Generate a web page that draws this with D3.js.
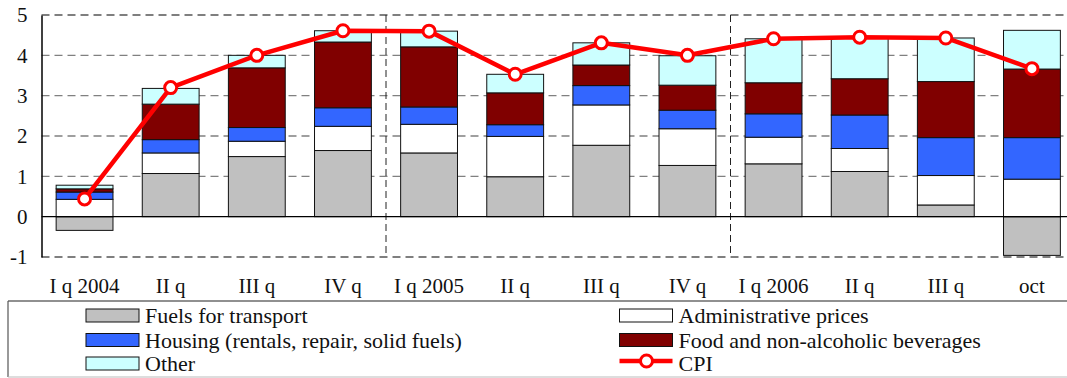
<!DOCTYPE html>
<html>
<head>
<meta charset="utf-8">
<script src="https://cdn.jsdelivr.net/npm/d3@7"></script>
<style>
  html, body { margin: 0; padding: 0; background: #fff; }
  svg { display: block; }
  text { font-family: "Liberation Serif", "Times New Roman", serif; fill: #111; }
</style>
</head>
<body>
<svg id="chart" width="1067" height="378"></svg>
<script>
// Contributions to CPI inflation, percentage points
const categories = ["I q 2004", "II q", "III q", "IV q", "I q 2005", "II q ", "III q ", "IV q ",
                    "I q 2006", "II q  ", "III q  ", "oct"];
const fuels    = [-0.34, 1.07, 1.49, 1.64, 1.58, 0.99, 1.77, 1.27, 1.31, 1.12, 0.29, -0.96];
const admin    = [ 0.43, 0.51, 0.38, 0.60, 0.71, 1.00, 1.00, 0.91, 0.66, 0.57, 0.73, 0.93];
const housing  = [ 0.18, 0.33, 0.34, 0.46, 0.43, 0.29, 0.48, 0.46, 0.58, 0.83, 0.94, 1.03];
const food     = [ 0.08, 0.88, 1.48, 1.63, 1.49, 0.79, 0.51, 0.62, 0.77, 0.90, 1.39, 1.70];
const other    = [ 0.09, 0.39, 0.31, 0.28, 0.39, 0.46, 0.55, 0.73, 1.09, 1.03, 1.08, 0.96];
const cpi      = [ 0.44, 3.20, 4.00, 4.61, 4.60, 3.53, 4.31, 4.00, 4.41, 4.45, 4.43, 3.67];
const yTicks   = [-1, 0, 1, 2, 3, 4, 5];
const yearBreaks = ["I q 2005", "I q 2006"];

const seriesKeys   = ["fuels", "admin", "housing", "food", "other"];
const seriesNames  = ["Fuels for transport", "Administrative prices",
                      "Housing (rentals, repair, solid fuels)", "Food and non-alcoholic beverages", "Other"];
const seriesColors = ["#c0c0c0", "#ffffff", "#3366ff", "#800000", "#ccffff"];

const rows = categories.map((c, i) => ({
  cat: c, fuels: fuels[i], admin: admin[i], housing: housing[i], food: food[i], other: other[i], cpi: cpi[i]
}));

const svg = d3.select("#chart");
const plotLeft = 41.5, plotTop = 15, plotBottom = 257, plotRight = 1075;

const x = d3.scaleBand().domain(categories).range([plotLeft, plotRight]).paddingInner(0.34).paddingOuter(0.17);
const y = d3.scaleLinear().domain([-1, 5]).range([plotBottom, plotTop]);
const cx = d => x(d) + x.bandwidth() / 2;

// horizontal grid
svg.append("g").selectAll("line").data(yTicks.filter(v => v > -1 && v < 5 && v !== 0)).join("line")
  .attr("x1", plotLeft).attr("x2", 1067).attr("y1", d => y(d)).attr("y2", d => y(d))
  .attr("stroke", "#808080").attr("stroke-width", 1.3).attr("stroke-dasharray", "8,5");

// top and bottom frame (dashed)
svg.append("g").selectAll("line").data([5, -1]).join("line")
  .attr("x1", plotLeft).attr("x2", 1067).attr("y1", d => y(d)).attr("y2", d => y(d))
  .attr("stroke", "#555").attr("stroke-width", 1.5).attr("stroke-dasharray", "8,5");

// year separators, halfway between the last quarter and the next first quarter
svg.append("g").selectAll("line").data(yearBreaks).join("line")
  .attr("x1", d => cx(d) - x.step() / 2).attr("x2", d => cx(d) - x.step() / 2)
  .attr("y1", plotTop).attr("y2", plotBottom)
  .attr("stroke", "#222").attr("stroke-width", 1).attr("stroke-dasharray", "7,4");

// stacked bars
const stack = d3.stack().keys(seriesKeys).offset(d3.stackOffsetDiverging);
const stacked = stack(rows);
svg.append("g").selectAll("g").data(stacked).join("g")
  .attr("fill", (d, i) => seriesColors[i])
  .selectAll("rect").data(d => d).join("rect")
  .attr("x", d => x(d.data.cat))
  .attr("width", x.bandwidth())
  .attr("y", d => y(Math.max(d[0], d[1])))
  .attr("height", d => Math.abs(y(d[0]) - y(d[1])))
  .attr("stroke", "#111").attr("stroke-width", 1);

// zero line and left axis
svg.append("line").attr("x1", plotLeft).attr("x2", 1067).attr("y1", y(0)).attr("y2", y(0))
  .attr("stroke", "#000").attr("stroke-width", 1.3);
const yAxis = d3.axisLeft(y).tickValues(yTicks).tickSize(0).tickPadding(14).tickFormat(d => String(d));
const ga = svg.append("g").attr("transform", `translate(${plotLeft},0)`).call(yAxis);
ga.select(".domain").attr("stroke", "#000").attr("stroke-width", 1.5);
ga.selectAll("text").attr("font-size", 21).attr("font-family", "Liberation Serif").attr("fill", "#222");

// category labels
svg.append("g").selectAll("text").data(categories).join("text")
  .attr("x", d => cx(d)).attr("y", 293)
  .attr("text-anchor", "middle").attr("font-size", 21)
  .text(d => d.trim());

// CPI line
const line = d3.line().x(d => cx(d.cat)).y(d => y(d.cpi));
svg.append("path").datum(rows).attr("d", line)
  .attr("fill", "none").attr("stroke", "#ff0000").attr("stroke-width", 4.5).attr("stroke-linejoin", "round");
svg.append("g").selectAll("circle").data(rows).join("circle")
  .attr("cx", d => cx(d.cat)).attr("cy", d => y(d.cpi)).attr("r", 6)
  .attr("fill", "#fff").attr("stroke", "#ff0000").attr("stroke-width", 3);

// legend
const lg = svg.append("g");
lg.append("line").attr("x1", 8).attr("x2", 1067).attr("y1", 301).attr("y2", 301).attr("stroke", "#222").attr("stroke-width", 1.2);
lg.append("line").attr("x1", 8).attr("x2", 8).attr("y1", 301).attr("y2", 377).attr("stroke", "#555").attr("stroke-width", 1.2);
lg.append("line").attr("x1", 8).attr("x2", 1067).attr("y1", 377).attr("y2", 377).attr("stroke", "#bbb").attr("stroke-width", 1.2);

const legendItems = [
  { name: seriesNames[0], color: seriesColors[0], col: 0, row: 0 },
  { name: seriesNames[1], color: seriesColors[1], col: 1, row: 0 },
  { name: seriesNames[2], color: seriesColors[2], col: 0, row: 1 },
  { name: seriesNames[3], color: seriesColors[3], col: 1, row: 1 },
  { name: seriesNames[4], color: seriesColors[4], col: 0, row: 2 },
  { name: "CPI", color: null, col: 1, row: 2 }
];
const colX = [86, 619.5], rowY = [309, 333.5, 357];
const items = lg.selectAll("g.item").data(legendItems).join("g")
  .attr("transform", d => `translate(${colX[d.col]},${rowY[d.row]})`);
items.filter(d => d.color).append("rect")
  .attr("width", 53).attr("height", 13).attr("fill", d => d.color).attr("stroke", "#111").attr("stroke-width", 1);
const cpiItem = items.filter(d => !d.color);
cpiItem.append("line").attr("x1", 0).attr("x2", 53).attr("y1", 4).attr("y2", 4)
  .attr("stroke", "#ff0000").attr("stroke-width", 4.5);
cpiItem.append("circle").attr("cx", 27).attr("cy", 4).attr("r", 6)
  .attr("fill", "#fff").attr("stroke", "#ff0000").attr("stroke-width", 3);
items.append("text").attr("x", 59).attr("y", 14).attr("font-size", 22).text(d => d.name);
</script>
</body>
</html>
